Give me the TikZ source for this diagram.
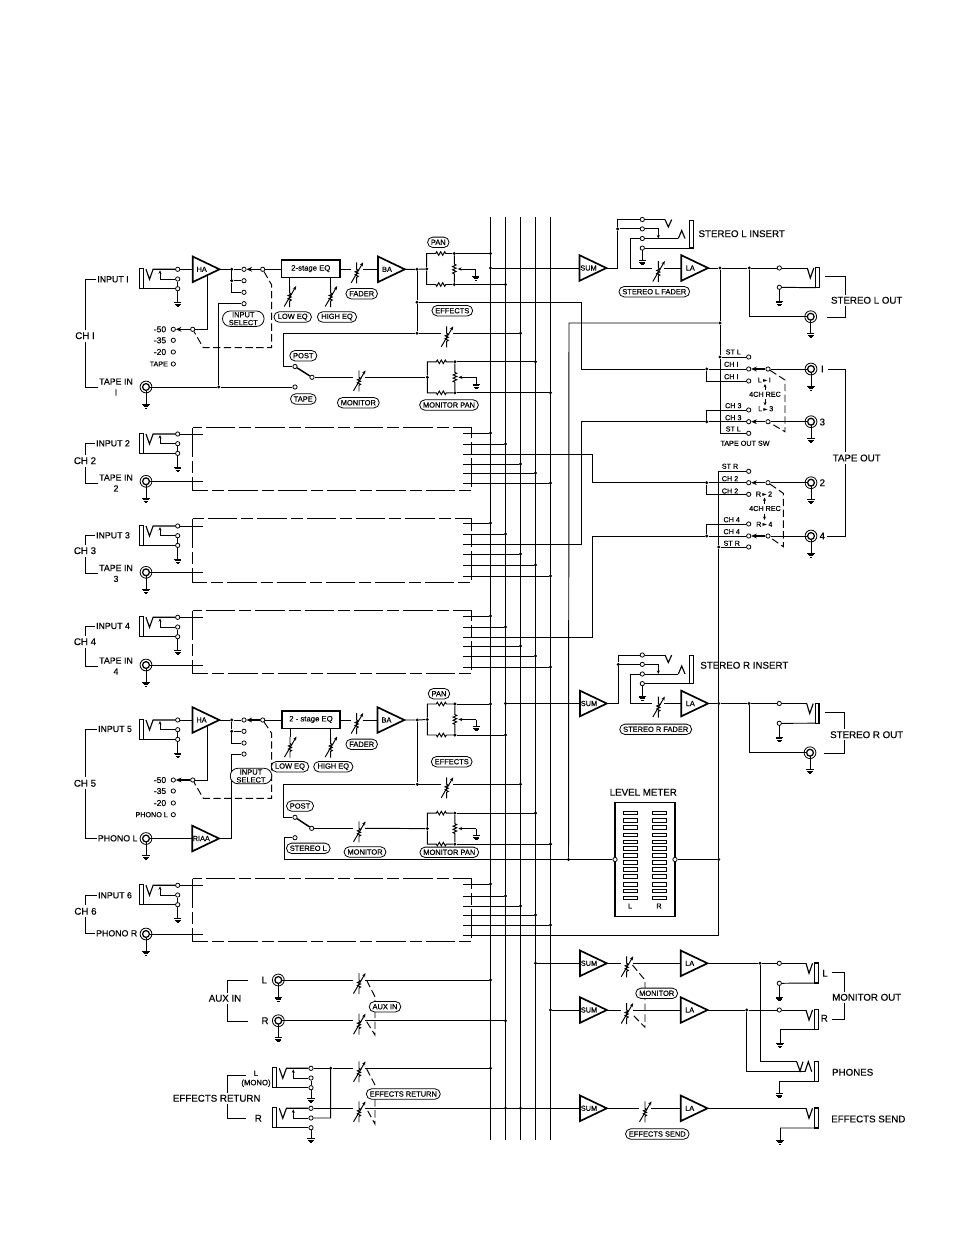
\documentclass[tikz,border=0pt]{standalone}
\usepackage{fontspec}
\setmainfont[FakeBold=0.35]{Liberation Sans}
\newfontfamily\symfont{DejaVu Sans}
\usetikzlibrary{arrows.meta,shapes.misc}
\newcommand\TermAt[2]{\node[termo] (#1) at (#2) {};}
\newcommand\DotAt[2]{\node[jdot] (#1) at (#2) {};}
% a wire from a node across to a junction on one of the five buses
\newcommand\BusDrop[3]{\node[jdot] (#1) at (bus#2 |- #3) {}; \draw[wire] (#3) -- (#1);}
% a channel block's output stub, ending on a bus
\newcommand\StubDrop[2]{\coordinate (st#1) at (463.3,#1); \node[jdot] (dr#1) at (bus#2 |- st#1) {}; \draw[wire] (st#1) -- (dr#1);}
% jack pair and dashed outline of a channel shown in short form
\newcommand\ChBlock[5]{%
  \pic (j#1) at (177.7,#2) {phin};
  \draw[wire] (j#1-t2) -- (j#1-t3);
  \coordinate (b#1a) at (202.5,#2);
  \draw[wire] (j#1-t1) -- (b#1a);
  \pic (r#1) at (146,#3) {rca};
  \coordinate (b#1b) at (203,#3);
  \draw[wire] (r#1-r) -- (b#1b);
  \draw[blockdash] (192.5,#4) rectangle (471.5,#5);
}
\tikzset{
  wire/.style={line width=0.72pt,line join=miter},
  hair/.style={line width=0.42pt},
  ctl/.style={line width=0.72pt,dash pattern=on 5.5pt off 2.6pt},
  blockdash/.style={line width=0.8pt,dash pattern=on 22pt off 3pt on 9pt off 3pt},
  arm/.style={line width=1.1pt,-{Stealth[length=4.2pt,width=3.6pt]}},
  armb/.style={line width=1.1pt},
  termo/.style={circle,draw,fill=white,line width=0.6pt,inner sep=0pt,minimum size=3.2pt},
  jdot/.style={circle,fill=black,inner sep=0pt,minimum size=2.5pt},
  lab/.style={font=\fontsize{7.3}{8.3}\selectfont,inner sep=0.6pt,align=center},
  blab/.style={lab,fill=white,inner sep=1.6pt},
  llab/.style={lab,font=\fontsize{6.6}{8.2}\selectfont},
  small/.style={font=\fontsize{5.4}{6.4}\selectfont,inner sep=0pt,align=center},
  gain/.style={font=\fontsize{6.4}{7}\selectfont,inner sep=0pt},
  pill/.style={rounded rectangle,draw,fill=white,line width=0.6pt,
    font=\fontsize{5.6}{5.9}\selectfont,inner xsep=2pt,inner ysep=0.9pt,minimum height=7.8pt,align=center},
  eqbox/.style={draw,line width=1pt,fill=white,inner sep=0pt,minimum width=43.7pt,minimum height=13pt,
    font=\fontsize{5.8}{6.4}\selectfont},
  pics/gnd/.style={code={
    \draw[hair] (-3.6,0) -- (3.6,0) (-3,1.3) -- (3,1.3) (-2.2,2.6) -- (2.2,2.6) (-1.2,3.9) -- (1.2,3.9);
  }},
  pics/gwire/.style={code={\draw[wire] (0,0) -- (0,#1); \pic at (0,#1) {gnd};}},
  pics/gterm/.style={code={\draw[wire] (0,2) -- (0,#1); \pic at (0,#1) {gnd};}},
  pics/amp/.style={code={
    \draw[line width=1.25pt,fill=white,line join=miter] (0,-12.8) -- (26.8,0) -- (0,12.8) -- cycle;
    \coordinate (-in) at (0,0);
    \coordinate (-out) at (26.8,0);
    \node[small,font=\fontsize{5.5}{6}\selectfont] (-name) at (9,0) {#1};
  }},
  pics/vr/.style={code={
    \coordinate (-l) at (-6,0);
    \coordinate (-r) at (6,0);
    \coordinate (-top) at (0,-7);
    \coordinate (-bot) at (0,14);
    \draw[wire] (-top) -- (0,0) -- (1.6,1) -- (-1.6,2.5) -- (1.6,4) -- (-1.6,5.5) -- (1.6,7) -- (0,8) -- (-bot);
    \draw[wire,-{Stealth[length=3pt,width=2.4pt]}] (-5.5,13.5) -- (6.5,-7);
  }},
  pics/phin/.default=14,
  pics/phin/.style={code={
    \node[termo] (-t1) at (0,0) {};
    \node[termo] (-t2) at (0,9.7) {};
    \node[termo] (-t3) at (0,19.4) {};
    \coordinate (-b) at (-34.4,19.4);
    \draw[line width=0.95pt] (-38.4,-0.6) rectangle (-34.4,19.4);
    \draw[line width=0.85pt] (-31.7,0) -- (-28.2,10) -- (-24.6,0) -- (-t1);
    \draw[wire] (-b) -- (-t3);
    \draw[wire,-{Stealth[length=2.6pt,width=2.2pt]}] (-t2) -| (-17.7,1);
    \pic at (0,19.4) {gterm=#1};
  }},
  pics/phout/.style={code={
    \coordinate (-in) at (0,0);
    \coordinate (-b) at (8.5,19.7);
    \draw[line width=0.85pt] (0,0) -- (3,10) -- (6.5,0);
    \draw[line width=0.95pt] (8.5,-0.3) rectangle (12.3,19.7);
  }},
  pics/rca/.style={code={
    \coordinate (-c) at (0,0);
    \coordinate (-l) at (-3.4,0);
    \coordinate (-r) at (3.4,0);
    \draw[line width=0.6pt] (0,0) circle (5.9);
    \draw[line width=0.95pt] (0,0) circle (3.4);
    \pic at (0,3.4) {gwire=13.6};
  }},
  pics/panpot/.style={code={
    \node[jdot] (-in) at (0,0) {};
    \node[jdot] (-a) at (27.6,-15.5) {};
    \node[jdot] (-b) at (27.6,15.5) {};
    \draw[wire] (-in) -- (0,-15.5) -- (9,-15.5) -- ++(1,-1.8) -- ++(2,3.6) -- ++(2,-3.6) -- ++(2,3.6) -- ++(2,-3.6) -- ++(1,1.8) -- (-a);
    \draw[wire] (-in) -- (0,15.5) -- (9,15.5) -- ++(1,1.8) -- ++(2,-3.6) -- ++(2,3.6) -- ++(2,-3.6) -- ++(2,3.6) -- ++(1,-1.8) -- (-b);
    \draw[wire] (-a) -- (27.6,-5) -- ++(1.8,1) -- ++(-3.6,1.6) -- ++(3.6,1.6) -- ++(-3.6,1.6) -- ++(3.6,1.6) -- ++(-3.6,1.6) -- ++(1.8,1) -- (-b);
    \draw[wire,-{Stealth[length=3pt,width=2.4pt]}] (49,0) -- (31,0);
    \pic at (49,0) {gwire=7};
  }},
  pics/insertjack/.style={code={
    \node[termo] (-t1) at (0,0) {};
    \node[termo] (-t2) at (0,9.4) {};
    \node[termo] (-t3) at (0,19) {};
    \node[termo] (-t4) at (0,28.6) {};
    \coordinate (-bar) at (47,28.6);
    \draw[wire] (-t1) -- (22.7,0);
    \draw[line width=0.85pt] (22.7,0) -- (26,7.5) -- (29.4,0);
    \draw[wire] (-t3) -- (36,19);
    \draw[line width=0.85pt] (36,19) -- (39.4,11) -- (42.7,19);
    \draw[line width=0.95pt] (47,0.7) rectangle (51,28.6);
    \draw[wire] (-t4) -- (-bar);
    \draw[wire,-{Stealth[length=2.6pt,width=2.2pt]}] (-t2) -| (16,19);
    \pic at (0,28.6) {gterm=12.5};
  }},
}
\begin{document}
\begin{tikzpicture}[x=0.75pt,y=-0.75pt]
\useasboundingbox (0,0) rectangle (954,1235);
\fill[white] (0,0) rectangle (954,1235);

% ---------- five mixing buses
\foreach \n/\bx in {A/490.5,B/505.5,C/520.5,D/535.5,E/550.5}{
  \coordinate (bus\n) at (\bx,217);
  \coordinate (bus\n end) at (\bx,1140);
  \draw[line width=0.8pt] (bus\n) -- (bus\n end);
}

% ---------- channel 1
\pic (j1) at (177.7,269.3) {phin};
\draw[wire] (j1-t2) -- (j1-t3);
\pic (ha1) at (192.7,269.3) {amp=HA};
\draw[wire] (j1-t1) -- (ha1-in);
\DotAt{s1}{231.7,269.3}
\DotAt{s1e}{231.7,280.7}
\TermAt{s1a}{244,269.3}
\TermAt{s1b}{244,280.7}
\TermAt{s1c}{244,292.3}
\TermAt{s1d}{244,303.7}
\TermAt{s1p}{262.7,269.3}
\draw[wire] (ha1-out) -- (s1) -- (s1a);
\draw[arm] (s1p) -- (s1a);
\draw[wire] (s1) -- (s1e) -- (s1b);
\draw[wire] (s1e) |- (s1c);
\node[eqbox] (eq1) at (310.8,268.7) {2-stage EQ};
\draw[wire] (s1p) -- (s1p -| eq1.west);
\pic (fd1) at (356.7,269.3) {vr};
\draw[wire] (eq1.east |- fd1-l) -- (fd1-l);
\pic (lo1) at (289.7,293) {vr};
\pic (hi1) at (330.7,293) {vr};
\draw[wire] (lo1-top) -- (lo1-top |- eq1.south);
\draw[wire] (hi1-top) -- (hi1-top |- eq1.south);
\pic (ba1) at (378,269.3) {amp=BA};
\draw[wire] (fd1-r) -- (ba1-in);
\DotAt{o1}{417,269.3}
\pic (pan1) at (426.7,269) {panpot};
\draw[wire] (ba1-out) -- (o1) -- (pan1-in);
\BusDrop{d1a}{A}{pan1-a}
\BusDrop{d1b}{B}{pan1-b}
\coordinate (e1) at (283.3,333.3);
\DotAt{e1d}{417,333.3}
\DotAt{t1d}{417,302.3}
\pic (fe1) at (446.7,333.3) {vr};
\draw[wire] (o1) -- (t1d) -- (e1d);
\draw[wire] (e1) -- (e1d) -- (fe1-l);
\BusDrop{d1c}{C}{fe1-r}
\TermAt{pp1}{295,366.5}
\TermAt{pm1}{312,377.3}
\TermAt{pt1}{295,387}
\draw[wire] (e1) |- (pp1);
\draw[armb] (pp1) -- (pm1);
\pic (r1) at (146,387) {rca};
\DotAt{t1}{218.7,387}
\draw[wire] (r1-r) -- (t1) -- (pt1);
\draw[wire] (t1) |- (s1d);
\pic (fm1) at (359,377.3) {vr};
\draw[wire] (pm1) -- (fm1-l);
\pic (mp1) at (427.3,377.3) {panpot};
\draw[wire] (fm1-r) -- (mp1-in);
\BusDrop{d1d}{D}{mp1-a}
\BusDrop{d1e}{E}{mp1-b}
\TermAt{g1a}{173.3,329.3}
\TermAt{g1b}{173.3,340.3}
\TermAt{g1c}{173.3,352}
\TermAt{g1d}{173.3,364}
\TermAt{g1p}{192.7,329.3}
\draw[arm] (g1p) -- (g1a);
\coordinate (g1k) at (207.3,329.3);
\coordinate (g1h) at (207.3,275);
\draw[wire] (g1p) -- (g1k) -- (g1h);
\coordinate (c1a) at (271.7,285);
\coordinate (c1b) at (271.7,347.7);
\coordinate (c1c) at (203.3,347.7);
\draw[ctl] (s1p) -- (c1a) -- (c1b) -- (c1c) -- (g1p);

% ---------- channels 2, 3, 4 and 6 in short form
\ChBlock{2}{434}{481.3}{427.5}{490.5}
\ChBlock{3}{526}{572.3}{518.5}{582.5}
\ChBlock{4}{617.3}{665}{610.5}{673.5}
\ChBlock{6}{885.3}{934}{878.5}{941.5}
\StubDrop{433}{A}\StubDrop{444}{B}\StubDrop{464}{C}\StubDrop{473}{D}\StubDrop{483}{E}
\StubDrop{523}{A}\StubDrop{534}{B}\StubDrop{554}{C}\StubDrop{565}{D}\StubDrop{576}{E}
\StubDrop{616}{A}\StubDrop{627}{B}\StubDrop{646}{C}\StubDrop{656}{D}\StubDrop{667}{E}
\StubDrop{884}{A}\StubDrop{896}{B}\StubDrop{906}{C}\StubDrop{915}{D}\StubDrop{925}{E}

% ---------- channel 5
\pic (j5) at (177.7,720) {phin};
\draw[wire] (j5-t2) -- (j5-t3);
\pic (ha5) at (192.5,720) {amp=HA};
\draw[wire] (j5-t1) -- (ha5-in);
\DotAt{s5}{231.7,720}
\DotAt{s5e}{231.7,731.3}
\TermAt{s5a}{244,720}
\TermAt{s5b}{244,731.3}
\TermAt{s5c}{244,743}
\TermAt{s5d}{244,754}
\TermAt{s5p}{262.7,720}
\draw[wire] (ha5-out) -- (s5) -- (s5a);
\draw[arm] (s5p) -- (s5a);
\draw[wire] (s5) -- (s5e) -- (s5b);
\draw[wire] (s5e) |- (s5c);
\node[eqbox] (eq5) at (311,719.5) {2 - stage EQ};
\draw[wire] (s5p) -- (s5p -| eq5.west);
\pic (fd5) at (356.7,720) {vr};
\draw[wire] (eq5.east |- fd5-l) -- (fd5-l);
\pic (lo5) at (290,743.5) {vr};
\pic (hi5) at (330.7,743.5) {vr};
\draw[wire] (lo5-top) -- (lo5-top |- eq5.south);
\draw[wire] (hi5-top) -- (hi5-top |- eq5.south);
\pic (ba5) at (377.5,720) {amp=BA};
\draw[wire] (fd5-r) -- (ba5-in);
\DotAt{o5}{417.3,720}
\pic (pan5) at (427.3,719.5) {panpot};
\draw[wire] (ba5-out) -- (o5) -- (pan5-in);
\BusDrop{d5a}{A}{pan5-a}
\BusDrop{d5b}{B}{pan5-b}
\coordinate (e5) at (283.3,784.3);
\DotAt{e5d}{417.3,784.3}
\pic (fe5) at (446.7,784.3) {vr};
\draw[wire] (o5) -- (e5d);
\draw[wire] (e5) -- (e5d) -- (fe5-l);
\BusDrop{d5c}{C}{fe5-r}
\TermAt{pp5}{295,817.3}
\TermAt{pm5}{311.7,828.3}
\TermAt{tsl}{295,837.7}
\draw[wire] (e5) |- (pp5);
\draw[armb] (pp5) -- (pm5);
\pic (fm5) at (359,828.3) {vr};
\draw[wire] (pm5) -- (fm5-l);
\pic (mp5) at (427.3,828.6) {panpot};
\draw[wire] (fm5-r) -- (mp5-in);
\BusDrop{d5d}{D}{mp5-a}
\BusDrop{d5e}{E}{mp5-b}
\TermAt{g5a}{173.3,780}
\TermAt{g5b}{173.3,791}
\TermAt{g5c}{173.3,803}
\TermAt{g5d}{173.3,814.7}
\TermAt{g5p}{192.7,780}
\draw[arm] (g5p) -- (g5a);
\coordinate (g5k) at (207.3,780);
\coordinate (g5h) at (207.3,725.5);
\draw[wire] (g5p) -- (g5k) -- (g5h);
\coordinate (c5a) at (271.7,733.3);
\coordinate (c5b) at (271.7,798.3);
\coordinate (c5c) at (203.3,798.3);
\draw[ctl] (s5p) -- (c5a) -- (c5b) -- (c5c) -- (g5p);
\pic (r5) at (146,838.5) {rca};
\pic (riaa) at (192.3,838.5) {amp=RIAA};
\draw[wire] (r5-r) -- (riaa-in);
\coordinate (k5) at (231.7,838.5);
\draw[wire] (riaa-out) -- (k5) |- (s5d);

% ---------- stereo left: sum, insert jack, fader, line amp, outputs
\pic (suml) at (579.5,268) {amp=SUM};
\node[jdot] (dsl) at (busA |- suml-in) {};
\draw[wire] (dsl) -- (suml-in);
\pic (insl) at (642.3,219.5) {insertjack};
\coordinate (sl1) at (617.7,268);
\DotAt{sl2}{617.7,228.9}
\draw[wire] (suml-out) -- (sl1) -- (sl2) |- (insl-t1);
\draw[wire] (sl2) -- (insl-t2);
\pic (fsl) at (658.3,268) {vr};
\coordinate (sl3) at (630,268);
\draw[wire] (insl-t3) -| (sl3) -- (fsl-l);
\pic (lal) at (681.3,268) {amp=LA};
\draw[wire] (fsl-r) -- (lal-in);
\DotAt{lo1}{720,268}
\DotAt{lo2}{749.3,268}
\TermAt{lo3}{779.3,268}
\TermAt{lo4}{779.3,287.3}
\pic (slj) at (807.3,268) {phout};
\draw[wire] (lal-out) -- (lo1) -- (lo2) -- (lo3) -- (slj-in);
\draw[wire] (lo4) -- (slj-b);
\pic at (779.3,287.3) {gterm=14};
\pic (rsl) at (810.7,316.7) {rca};
\draw[wire] (lo2) |- (rsl-l);

% ---------- tape out switch, left side
\DotAt{lv1}{720,323}
\DotAt{lv2}{720,357}
\coordinate (lv3) at (720,433.3);
\TermAt{tla}{748.7,357}
\TermAt{tlb}{748.7,369}
\TermAt{tlc}{748.7,381}
\TermAt{tld}{748.7,410}
\TermAt{tle}{748.7,421.7}
\TermAt{tlf}{748.7,433.3}
\draw[wire] (lo1) -- (lv1) -- (lv2) -- (lv3) -- (tlf);
\draw[wire] (lv2) -- (tla);
\coordinate (mx) at (569,323);
\DotAt{lmj}{568.5,859.5}
\draw[wire] (lv1) -- (mx) -- (lmj);
\DotAt{wc1}{706.7,369}
\DotAt{wc3}{706.7,421.7}
\draw[wire] (wc1) -- (tlb);
\draw[wire] (wc1) |- (tlc);
\draw[wire] (wc3) -- (tle);
\draw[wire] (wc3) |- (tld);
\TermAt{pl1}{768,369}
\TermAt{pl3}{768,421.7}
\draw[arm] (pl1) -- (tlb);
\draw[arm] (pl3) -- (tle);
\pic (ro1) at (811,369) {rca};
\pic (ro3) at (811,421.7) {rca};
\draw[wire] (pl1) -- (ro1-l);
\draw[wire] (pl3) -- (ro3-l);
\coordinate (cl1) at (785,380);
\coordinate (cl2) at (785,431.7);
\draw[ctl] (pl1) -- (cl1) -- (cl2) -- (pl3);
\coordinate (ax1) at (581,302.3);
\coordinate (ax2) at (581,369);
\draw[wire] (t1d) -- (ax1) -- (ax2) -- (wc1);
\coordinate (ax3) at (581,544);
\coordinate (st544) at (463.3,544);
\coordinate (ax4) at (581,421.7);
\draw[wire] (st544) -- (ax3) -- (ax4) -- (wc3);

% ---------- tape out switch, right side
\TermAt{tra}{748.7,471.3}
\TermAt{trb}{748.7,482.7}
\TermAt{trc}{748.7,494.3}
\TermAt{trd}{748.7,524}
\TermAt{tre}{748.7,536}
\TermAt{trf}{748.7,547}
\coordinate (rv0) at (718.7,471.3);
\DotAt{rv1}{718.7,547}
\DotAt{lor1}{718.7,703.5}
\DotAt{rv2}{718.7,859.5}
\coordinate (rv3) at (718.7,935);
\coordinate (st935) at (463.3,935);
\draw[wire] (tra) -- (rv0) -- (rv1) -- (lor1) -- (rv2) -- (rv3) -- (st935);
\draw[wire] (rv1) -- (trf);
\DotAt{wc2}{706.7,482.7}
\DotAt{wc4}{706.7,536}
\draw[wire] (wc2) -- (trb);
\draw[wire] (wc2) |- (trc);
\draw[wire] (wc4) -- (tre);
\draw[wire] (wc4) |- (trd);
\TermAt{pr2}{768,482.7}
\TermAt{pr4}{768,536}
\draw[arm] (pr2) -- (trb);
\draw[arm] (pr4) -- (tre);
\pic (ro2) at (811,482.7) {rca};
\pic (ro4) at (811,536) {rca};
\draw[wire] (pr2) -- (ro2-l);
\draw[wire] (pr4) -- (ro4-l);
\coordinate (cr1) at (783.3,493.3);
\coordinate (cr2) at (783.3,546.7);
\draw[ctl] (pr2) -- (cr1) -- (cr2) -- (pr4);
\coordinate (st454) at (463.3,454);
\coordinate (ax5) at (592.7,454);
\coordinate (ax6) at (592.7,482.7);
\draw[wire] (st454) -- (ax5) -- (ax6) -- (wc2);
\coordinate (st637) at (463.3,637);
\coordinate (ax7) at (592.7,637);
\coordinate (ax8) at (592.7,536);
\draw[wire] (st637) -- (ax7) -- (ax8) -- (wc4);
\foreach \ar/\ay/\by in {765/390/384,765/399/405.5,764.5/503.5/497.5,764.5/513.5/520}{
  \coordinate (aa) at (\ar,\ay);
  \coordinate (ab) at (\ar,\by);
  \draw[wire,-{Stealth[length=2.6pt,width=2.2pt]}] (aa) -- (ab);
}

% ---------- stereo right
\pic (sumr) at (580,703.5) {amp=SUM};
\node[jdot] (dsr) at (busB |- sumr-in) {};
\draw[wire] (dsr) -- (sumr-in);
\pic (insr) at (642.3,655) {insertjack};
\coordinate (sr1) at (618.3,703.5);
\DotAt{sr2}{618.3,664.4}
\draw[wire] (sumr-out) -- (sr1) -- (sr2) |- (insr-t1);
\draw[wire] (sr2) -- (insr-t2);
\pic (fsr) at (658.3,703.5) {vr};
\coordinate (sr3) at (630,703.5);
\draw[wire] (insr-t3) -| (sr3) -- (fsr-l);
\pic (lar) at (681.3,703.5) {amp=LA};
\draw[wire] (fsr-r) -- (lar-in);
\DotAt{ro5}{749,703.5}
\TermAt{ro6}{779.3,703.5}
\TermAt{ro7}{779.3,723.3}
\pic (srj) at (806.7,703.5) {phout};
\draw[wire] (lar-out) -- (lor1) -- (ro5) -- (ro6) -- (srj-in);
\draw[wire] (ro7) -- (srj-b);
\pic at (779.3,723.3) {gterm=14};
\pic (rsr) at (810,752.7) {rca};
\draw[wire] (ro5) |- (rsr-l);

% ---------- level meter
\node[draw,line width=1.15pt,minimum width=45pt,minimum height=85.5pt,inner sep=0pt] (lmbox) at (645,859.7) {};
\foreach \my in {813,820.3,827.7,835,842,848.7,855.7,862.7,869.7,876.7,884.3,891,898}{
  \draw[line width=0.7pt] (623.3,\my-1.8) rectangle (637.3,\my+1.8);
  \draw[line width=0.7pt] (652.7,\my-1.8) rectangle (666,\my+1.8);
}
\TermAt{lml}{615,859.5}
\TermAt{lmr}{675,859.5}
\coordinate (c5k) at (284.3,859.5);
\draw[wire] (tsl) -| (c5k) -- (lmj) -- (lml);
\draw[wire] (lmr) -- (rv2);

% ---------- aux inputs
\pic (ral) at (278.3,980) {rca};
\pic (rar) at (278.3,1020.7) {rca};
\pic (fal) at (359,980) {vr};
\pic (far) at (359,1020.7) {vr};
\draw[wire] (ral-r) -- (fal-l);
\draw[wire] (rar-r) -- (far-l);
\BusDrop{dal}{A}{fal-r}
\BusDrop{dar}{B}{far-r}
\coordinate (ca1) at (366.7,980.5);
\coordinate (ca2) at (375,996.7);
\coordinate (ca3) at (375,1035);
\coordinate (ca4) at (366.7,1021.7);
\draw[ctl] (ca1) -- (ca2) -- (ca3) -- (ca4);

% ---------- effects return
\pic (jfl) at (311,1068.3) {phin=11};
\draw[wire] (jfl-t2) -- (jfl-t3);
\pic (jfr) at (311,1108.3) {phin=11};
\DotAt{fx1}{330.7,1068.3}
\coordinate (fx2) at (330.7,1118);
\pic (ffl) at (359,1068.3) {vr};
\pic (ffr) at (359,1108.3) {vr};
\draw[wire] (jfl-t1) -- (fx1) -- (ffl-l);
\draw[wire] (jfr-t2) -- (fx2) -- (fx1);
\draw[wire] (jfr-t1) -- (ffr-l);
\BusDrop{dfl}{A}{ffl-r}
\BusDrop{dfr}{B}{ffr-r}
\node[jdot] (dfs) at (busC |- ffr-r) {};
\coordinate (cf1) at (366.7,1069);
\coordinate (cf2) at (375,1085);
\coordinate (cf3) at (375,1124);
\coordinate (cf4) at (366.7,1109);
\draw[ctl] (cf1) -- (cf2) -- (cf3) -- (cf4);

% ---------- monitor outputs and phones
\pic (sm1) at (580,963.3) {amp=SUM};
\pic (sm2) at (580,1010) {amp=SUM};
\node[jdot] (dm1) at (busD |- sm1-in) {};
\node[jdot] (dm2) at (busE |- sm2-in) {};
\draw[wire] (dm1) -- (sm1-in);
\draw[wire] (dm2) -- (sm2-in);
\pic (fm1x) at (626.7,963.3) {vr};
\pic (fm2x) at (626.7,1010) {vr};
\pic (lm1) at (680.7,963.3) {amp=LA};
\pic (lm2) at (680.7,1010) {amp=LA};
\draw[wire] (sm1-out) -- (fm1x-l);
\draw[wire] (sm2-out) -- (fm2x-l);
\draw[wire] (fm1x-r) -- (lm1-in);
\draw[wire] (fm2x-r) -- (lm2-in);
\DotAt{mo1}{760,963.3}
\DotAt{mo2}{746.7,1010}
\TermAt{mt1}{779.3,963.3}
\TermAt{mt2}{779.3,983.3}
\TermAt{mt3}{779.3,1010}
\pic (mjl) at (806,963.3) {phout};
\pic (mjr) at (806,1010) {phout};
\draw[wire] (lm1-out) -- (mo1) -- (mt1) -- (mjl-in);
\draw[wire] (mt2) -- (mjl-b);
\pic at (779.3,983.3) {gterm=13.5};
\draw[wire] (lm2-out) -- (mo2) -- (mt3) -- (mjr-in);
\coordinate (mrg) at (780,1029.7);
\draw[wire] (mjr-b) -- (mrg);
\pic at (mrg) {gwire=13.5};
\coordinate (cm1) at (632.5,965);
\coordinate (cm2) at (645,980);
\coordinate (cm3) at (645,1027.3);
\coordinate (cm4) at (632,1014);
\draw[ctl] (cm1) -- (cm2) -- (cm3) -- (cm4);
\coordinate (ph1) at (796.7,1061.7);
\coordinate (ph2) at (805,1071.7);
\draw[wire] (mo1) |- (ph1);
\draw[wire] (mo2) |- (ph2);
\draw[line width=0.85pt] (ph1) -- (800,1071) -- (803,1061.7);
\draw[line width=0.85pt] (ph2) -- (808.3,1061.7) -- (811.7,1071.7);
\draw[line width=0.95pt] (814.3,1061.7) rectangle (818.3,1081.7);
\coordinate (ph3) at (814.3,1081.7);
\coordinate (phg) at (779.3,1081.7);
\draw[wire] (ph3) -- (phg);
\pic at (phg) {gwire=12};

% ---------- effects send
\pic (ses) at (580,1108.3) {amp=SUM};
\draw[wire] (dfr) -- (dfs) -- (ses-in);
\pic (fes) at (645,1108.3) {vr};
\pic (les) at (680.7,1108.3) {amp=LA};
\pic (esj) at (806,1108.3) {phout};
\draw[wire] (ses-out) -- (fes-l);
\draw[wire] (fes-r) -- (les-in);
\draw[wire] (les-out) -- (esj-in);
\coordinate (esg) at (780,1128);
\draw[wire] (esj-b) -- (esg);
\pic at (esg) {gwire=12};

% ---------- output group brackets
\coordinate (bq1) at (825,276.7);
\coordinate (bq2) at (845.3,276.7);
\coordinate (bq3) at (845.3,317.3);
\coordinate (bq4) at (826.7,317.3);
\draw[wire] (bq1) -- (bq2) -- (bq3) -- (bq4);
\coordinate (bt1) at (828.3,369);
\coordinate (bt2) at (845.7,369);
\coordinate (bt3) at (845.7,536);
\coordinate (bt4) at (826.7,536);
\draw[wire] (bt1) -- (bt2) -- (bt3) -- (bt4);
\coordinate (bu1) at (825,712.3);
\coordinate (bu2) at (844,712.3);
\coordinate (bu3) at (844,753.3);
\coordinate (bu4) at (824.3,753.3);
\draw[wire] (bu1) -- (bu2) -- (bu3) -- (bu4);
\coordinate (bm1) at (831.7,972.3);
\coordinate (bm2) at (844.3,972.3);
\coordinate (bm3) at (844.3,1019.3);
\coordinate (bm4) at (831.7,1019.3);
\draw[wire] (bm1) -- (bm2) -- (bm3) -- (bm4);
\coordinate (bx1) at (248.3,980);
\coordinate (bx2) at (227.7,980);
\coordinate (bx3) at (227.7,1021);
\coordinate (bx4) at (248.3,1021);
\draw[wire] (bx1) -- (bx2) -- (bx3) -- (bx4);
\coordinate (by1) at (246,1075);
\coordinate (by2) at (227.7,1075);
\coordinate (by3) at (227.7,1118.3);
\coordinate (by4) at (246,1118.3);
\draw[wire] (by1) -- (by2) -- (by3) -- (by4);

% ---------- channel labels with their brackets
\foreach \id/\cn/\cy/\iy/\it/\tx/\ty/\tt/\tl in {
  1/CH I/335.7/279.3/INPUT I/116/387/TAPE IN/I,
  2/CH 2/460.7/443.3/INPUT 2/116/483/TAPE IN/2,
  3/CH 3/550.7/535.3/INPUT 3/116/573.5/TAPE IN/3,
  4/CH 4/641.7/626/INPUT 4/116/666/TAPE IN/4}{
  \node[blab] (ch\id) at (85,\cy) {\cn};
  \node[llab] (li\id) at (113,\iy) {\it};
  \node[llab] (lt\id) at (\tx,\ty) {\tt\\\tl};
  \draw[wire] (li\id.west) -| (ch\id.north);
  \draw[wire] (lt\id.west) -| (ch\id.south);
}
\node[blab] (ch5) at (85,783.3) {CH 5};
\node[llab] (li5) at (115,729) {INPUT 5};
\node[llab] (lt5) at (117.7,838.3) {PHONO L};
\draw[wire] (li5.west) -| (ch5.north);
\draw[wire] (lt5.west) -| (ch5.south);
\node[blab] (ch6) at (85.5,911.3) {CH 6};
\node[llab] (li6) at (115,895.3) {INPUT 6};
\node[llab] (lt6) at (116.7,933.3) {PHONO R};
\draw[wire] (li6.west) -| (ch6.north);
\draw[wire] (lt6.west) -| (ch6.south);

% ---------- amplifier gain settings
\foreach \nm/\tx/\gx/\ty in {a/-50/160/329.3,b/-35/160/340.3,c/-20/160/352,e/-50/160/780,f/-35/160/791,g/-20/160/803}{
  \node[gain] (gl\nm) at (\gx,\ty) {\tx};
}
\node[small] (gld) at (158.8,364) {TAPE};
\node[small] (glh) at (151.7,814.7) {PHONO L};

% ---------- pill captions
\node[pill] (pa) at (438.3,242.3) {PAN};
\node[pill] (pb) at (361.7,293.7) {FADER};
\node[pill] (pc) at (292.7,317) {LOW EQ};
\node[pill] (pd) at (337,317) {HIGH EQ};
\node[pill] (pe) at (243.3,318.7) {INPUT\\SELECT};
\node[pill] (pf) at (452.3,310.7) {EFFECTS};
\node[pill] (pg) at (303.3,355.7) {POST};
\node[pill] (ph) at (303.3,399) {TAPE};
\node[pill] (pi) at (358.3,402.7) {MONITOR};
\node[pill] (pj) at (449,405) {MONITOR PAN};
\node[pill] (pk) at (439,693.7) {PAN};
\node[pill] (pl) at (361.7,744.3) {FADER};
\node[pill] (pm) at (290,766.7) {LOW EQ};
\node[pill] (pn) at (333.3,766.7) {HIGH EQ};
\node[pill] (po) at (251,776) {INPUT\\SELECT};
\node[pill] (pp) at (451.7,761.7) {EFFECTS};
\node[pill] (pq) at (300,806) {POST};
\node[pill] (pr) at (308.3,848.3) {STEREO L};
\node[pill] (ps) at (365,852) {MONITOR};
\node[pill] (pt) at (449.3,852.3) {MONITOR PAN};
\node[pill] (pu) at (654.3,291.7) {STEREO L FADER};
\node[pill] (pv) at (655.7,729.3) {STEREO R FADER};
\node[pill] (pw) at (385,1006.7) {AUX IN};
\node[pill] (px) at (403.3,1094) {EFFECTS RETURN};
\node[pill] (py) at (656.7,993.3) {MONITOR};
\node[pill] (pz) at (657.3,1134) {EFFECTS SEND};

% ---------- plain captions
\node[lab] (tx1) at (741.7,233.7) {STEREO L INSERT};
\node[lab] (tx2) at (744.3,665.3) {STEREO R INSERT};
\node[blab] (tx3) at (866.7,300.3) {STEREO L OUT};
\node[blab] (tx4) at (856.7,458) {TAPE OUT};
\node[blab] (tx5) at (866.7,734.7) {STEREO R OUT};
\node[blab] (tx6) at (866.7,997.3) {MONITOR OUT};
\node[lab] (tx7) at (852.7,1072.3) {PHONES};
\node[lab] (tx8) at (868.3,1119) {EFFECTS SEND};
\node[lab] (tx9) at (643.3,792.3) {LEVEL METER};
\node[small] (txa) at (630,906) {L};
\node[small] (txb) at (659,906) {R};
\node[blab] (txc) at (225,998.3) {AUX IN};
\node[lab] (txd) at (264.3,980) {L};
\node[lab] (txe) at (265,1020.7) {R};
\node[blab] (txf) at (216.7,1098.3) {EFFECTS RETURN};
\node[small,font=\fontsize{5.8}{7}\selectfont] (txg) at (256,1078.7) {L\\(MONO)};
\node[lab] (txh) at (258.3,1118.3) {R};
\node[lab] (txi) at (822.3,369) {I};
\node[lab] (txj) at (822.3,422) {3};
\node[lab] (txk) at (822.3,482.7) {2};
\node[lab] (txl) at (822.3,536) {4};
\node[lab] (txm) at (825,973.3) {L};
\node[lab] (txn) at (824.3,1018.3) {R};

% ---------- tape out switch captions
\node[small] (sa) at (733.3,352) {ST L};
\node[small] (sb) at (731.3,364.3) {CH I};
\node[small] (sc) at (731.3,376.7) {CH I};
\node[small] (sd) at (733.3,405.7) {CH 3};
\node[small] (se) at (733.3,417.7) {CH 3};
\node[small] (sf) at (733.3,429) {ST L};
\node[small] (sg) at (764.3,380) {L\,{\symfont\fontsize{4.5}{4.5}\selectfont ►}\,I};
\node[small] (sh) at (765,394.3) {4CH REC};
\node[small] (si) at (765.7,408.7) {L\,{\symfont\fontsize{4.5}{4.5}\selectfont ►}\,3};
\node[small] (sj) at (745,443.3) {TAPE OUT SW};
\node[small] (sk) at (730,466.3) {ST R};
\node[small] (sl) at (730,478.7) {CH 2};
\node[small] (sm) at (730,491) {CH 2};
\node[small] (sn) at (731.7,519.7) {CH 4};
\node[small] (so) at (731.7,531.7) {CH 4};
\node[small] (sp) at (731.7,543.3) {ST R};
\node[small] (sq) at (764,494) {R\,{\symfont\fontsize{4.5}{4.5}\selectfont ►}\,2};
\node[small] (sr) at (765,508.5) {4CH REC};
\node[small] (ss) at (764.3,524.3) {R\,{\symfont\fontsize{4.5}{4.5}\selectfont ►}\,4};
\end{tikzpicture}
\end{document}
